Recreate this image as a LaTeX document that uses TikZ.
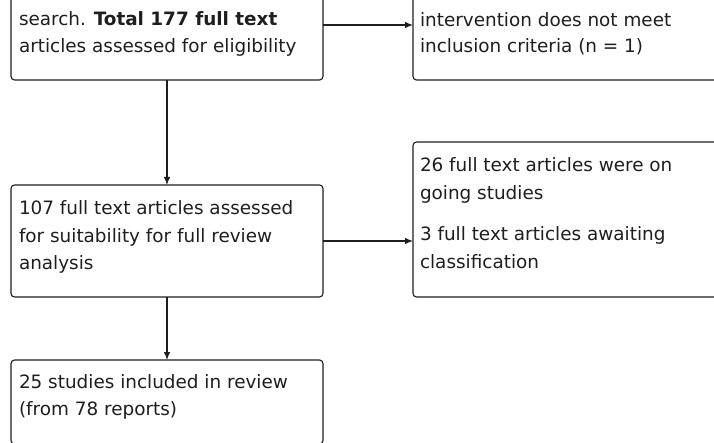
\documentclass[tikz,border=0pt]{standalone}
\usepackage{fontspec}
\setmainfont{DejaVu Sans}
\usetikzlibrary{arrows.meta}
\definecolor{ink}{HTML}{1E1E1E}
\begin{document}
\begin{tikzpicture}[x=1pt,y=-1pt,
  box/.style={draw=ink,line width=1.1pt,rounded corners=3.5pt,inner sep=0pt,outer sep=0pt},
  txt/.style={anchor=base west,inner sep=0pt,outer sep=0pt,align=left,text=ink,
    font=\fontsize{18.4}{27.5}\selectfont},
  link/.style={draw=ink,line width=1.1pt,-{Latex[length=8pt,width=6.5pt]}}]
\useasboundingbox (0,0) rectangle (714,443);
\clip (0,0) rectangle (714,443);
% boxes
\node[box,minimum width=312pt,minimum height=110pt] (b1) at (167,25) {};
\node[box,minimum width=350pt,minimum height=110pt] (b2) at (588,25) {};
\node[box,minimum width=312pt,minimum height=112pt] (b3) at (167,241) {};
\node[box,minimum width=350pt,minimum height=155pt] (b4) at (588,219.5) {};
\node[box,minimum width=312pt,minimum height=84pt] (b5) at (167,402) {};
% texts
\node[txt] (t1a) at (19,26) {search. \textbf{Total 177 full text}};
\node[txt] (t1b) at (19,53) {articles assessed for eligibility};
\node[txt] (t2a) at (420,27) {intervention does not meet};
\node[txt] (t2b) at (420,53) {inclusion criteria (n = 1)};
\node[txt] (t3a) at (19,215) {107 full text articles assessed};
\node[txt] (t3b) at (19,242.5) {for suitability for full review};
\node[txt] (t3c) at (19,270) {analysis};
\node[txt] (t4a) at (420,172) {26 full text articles were on};
\node[txt] (t4b) at (420,199.5) {going studies};
\node[txt] (t4c) at (420,241) {3 full text articles awaiting};
\node[txt] (t4d) at (420,268.5) {classification};
\node[txt] (t5a) at (19,388) {25 studies included in review};
\node[txt] (t5b) at (19,415) {(from 78 reports)};
% connectors
\draw[link] (b1.east) -- (b1.east -| b2.west);
\draw[link] (b1.south) -- (b3.north);
\draw[link] (b3.east) -- (b3.east -| b4.west);
\draw[link] (b3.south) -- (b5.north);
\end{tikzpicture}
\end{document}
